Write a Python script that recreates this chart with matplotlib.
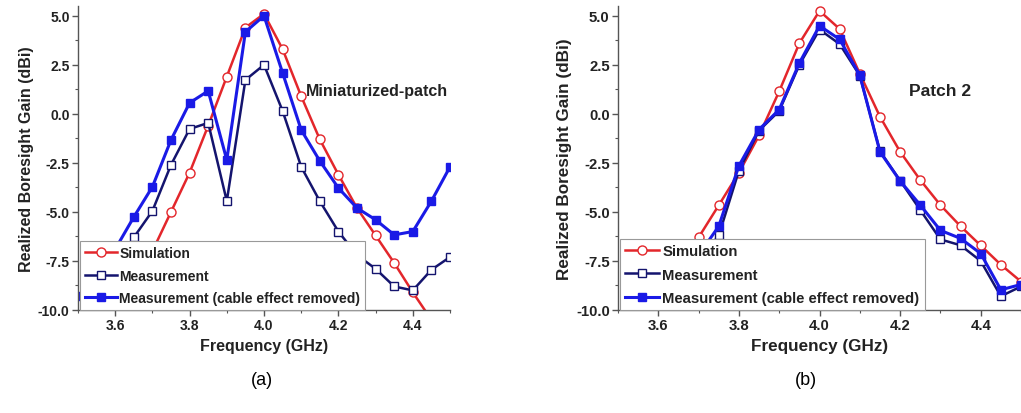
import matplotlib
matplotlib.use("Agg")
import matplotlib.pyplot as plt
from matplotlib.ticker import MultipleLocator, FormatStrFormatter

plt.rcParams['font.family'] = ['Liberation Sans', 'DejaVu Sans']

# ---------------- data: panel (a) Miniaturized-patch ----------------
freq_sim_a = [3.60, 3.65, 3.70, 3.75, 3.80, 3.85, 3.90, 3.95, 4.00, 4.05, 4.10,
              4.15, 4.20, 4.25, 4.30, 4.35, 4.40, 4.45]
sim_a = [-10.8, -9.0, -7.0, -5.0, -3.0, -0.6, 1.9, 4.4, 5.1, 3.3, 0.9,
         -1.3, -3.1, -4.8, -6.2, -7.6, -9.1, -10.5]

freq_meas_a = [3.50, 3.55, 3.60, 3.65, 3.70, 3.75, 3.80, 3.85, 3.90, 3.95, 4.00,
               4.05, 4.10, 4.15, 4.20, 4.25, 4.30, 4.35, 4.40, 4.45, 4.50]
meas_a = [-10.5, -9.3, -7.8, -6.3, -4.95, -2.6, -0.77, -0.46, -4.45, 1.73, 2.5,
          0.15, -2.7, -4.45, -6.0, -7.2, -7.9, -8.8, -9.0, -7.95, -7.3]
meas_cr_a = [-9.3, -8.5, -6.9, -5.26, -3.72, -1.33, 0.56, 1.17, -2.35, 4.18, 5.0,
             2.09, -0.82, -2.4, -3.78, -4.8, -5.4, -6.17, -6.0, -4.45, -2.7]

# ---------------- data: panel (b) Patch 2 ----------------
freq_b = [3.60, 3.65, 3.70, 3.75, 3.80, 3.85, 3.90, 3.95, 4.00, 4.05, 4.10,
          4.15, 4.20, 4.25, 4.30, 4.35, 4.40, 4.45, 4.50]
sim_b = [-10.0, -8.1, -6.3, -4.66, -3.0, -1.1, 1.15, 3.6, 5.25, 4.33, 2.05,
         -0.14, -1.93, -3.37, -4.65, -5.73, -6.71, -7.69, -8.55]
meas_b = [-10.1, -8.8, -7.5, -6.2, -2.9, -0.85, 0.15, 2.5, 4.3, 3.56, 1.95,
          -1.9, -3.4, -4.9, -6.4, -6.7, -7.5, -9.3, -8.8]
meas_cr_b = [-10.0, -8.6, -7.2, -5.73, -2.65, -0.8, 0.22, 2.59, 4.49, 3.8, 1.97,
             -1.93, -3.42, -4.65, -5.94, -6.35, -7.12, -8.97, -8.7]

series_labels = ["Simulation", "Measurement", "Measurement (cable effect removed)"]
panel_titles = ["Miniaturized-patch", "Patch 2"]
panel_tags = ["(a)", "(b)"]
xlabel = "Frequency (GHz)"
ylabel = "Realized Boresight Gain (dBi)"

RED = "#e3262b"
NAVY = "#14146e"
BLUE = "#1a1ae6"

W, H = 1021, 414
fig = plt.figure(figsize=(W / 100, H / 100), dpi=100)

def make_axes(left_px, right_px, scale):
    ax = fig.add_axes([left_px / W, (H - 311) / H, (right_px - left_px) / W, (311 - 7) / H])
    ax.set_xlim(3.5, 4.5)
    ax.set_ylim(-10, 5.5)
    for s in ("top", "right"):
        ax.spines[s].set_visible(False)
    for s in ("left", "bottom"):
        ax.spines[s].set_color("#555555")
        ax.spines[s].set_linewidth(1.0)
    ax.xaxis.set_major_locator(MultipleLocator(0.2))
    ax.xaxis.set_minor_locator(MultipleLocator(0.1))
    ax.yaxis.set_major_locator(MultipleLocator(2.5))
    ax.yaxis.set_minor_locator(MultipleLocator(1.25))
    ax.xaxis.set_major_formatter(FormatStrFormatter("%.1f"))
    ax.yaxis.set_major_formatter(FormatStrFormatter("%.1f"))
    ax.tick_params(which="major", direction="out", length=4, width=1, color="#555555",
                   labelsize=10 * scale, pad=2)
    ax.tick_params(which="minor", direction="out", length=2.5, width=0.8, color="#555555")
    for lab in ax.get_xticklabels() + ax.get_yticklabels():
        lab.set_fontweight("bold")
        lab.set_color("#222222")
    ax.set_xlabel(xlabel, fontsize=11.5 * scale, fontweight="bold", color="#222222", labelpad=4)
    ax.set_ylabel(ylabel, fontsize=11.5 * scale, fontweight="bold", color="#222222", labelpad=3)
    return ax

def plot_series(ax, fs, s, fm, m, mc):
    l1, = ax.plot(fs, s, color=RED, lw=1.8, marker="o", ms=6.5, mfc="white", mec=RED, mew=1.0)
    l2, = ax.plot(fm, m, color=NAVY, lw=1.8, marker="s", ms=6, mfc="white", mec=NAVY, mew=1.0)
    l3, = ax.plot(fm, mc, color=BLUE, lw=2.2, marker="s", ms=6, mfc=BLUE, mec=BLUE)
    return [l1, l2, l3]

def add_legend(ax, handles, scale):
    leg = ax.legend(handles, series_labels, loc="lower left", bbox_to_anchor=(0.005, 0.0),
                    borderaxespad=0, frameon=True, fancybox=False, framealpha=1,
                    edgecolor="#999999", handlelength=2.3, handletextpad=0.2,
                    labelspacing=0.62, borderpad=0.35,
                    prop={"weight": "bold", "size": 10 * scale})
    leg.get_frame().set_linewidth(0.8)
    for t in leg.get_texts():
        t.set_color("#222222")
    leg.set_zorder(5)

ax1 = make_axes(78, 450, 1.0)
h1 = plot_series(ax1, freq_sim_a, sim_a, freq_meas_a, meas_a, meas_cr_a)
add_legend(ax1, h1, 1.0)
ax1.text(4.113, 1.17, panel_titles[0], fontsize=11.5, fontweight="bold", color="#222222",
         va="center", ha="left")

ax2 = make_axes(618, 1021, 1.07)
h2 = plot_series(ax2, freq_b, sim_b, freq_b, meas_b, meas_cr_b)
add_legend(ax2, h2, 1.07)
ax2.text(4.221, 1.2, panel_titles[1], fontsize=12.5, fontweight="bold", color="#222222",
         va="center", ha="left")

fig.text(262 / W, 1 - 381 / H, panel_tags[0], fontsize=13, ha="center", va="center")
fig.text(806 / W, 1 - 381 / H, panel_tags[1], fontsize=13, ha="center", va="center")

fig.savefig("out.png", dpi=100)
